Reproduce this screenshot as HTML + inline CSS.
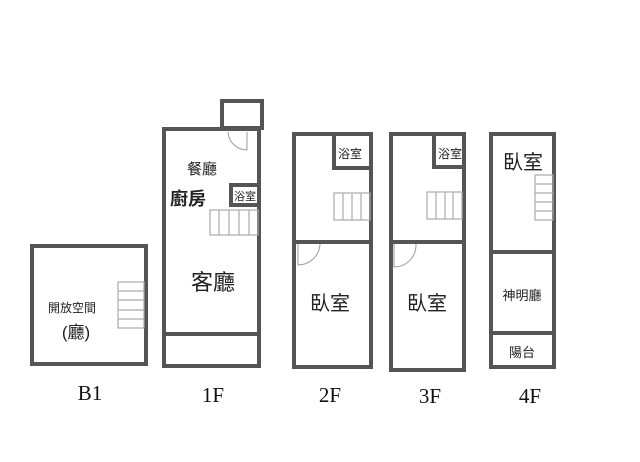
<!DOCTYPE html>
<html><head><meta charset="utf-8"><style>
html,body{margin:0;padding:0;background:#fff;}
svg{display:block;}
.w{fill:none;stroke:#555;stroke-width:4;}
.t{stroke:#aaa;stroke-width:1.2;fill:none;}
.d{stroke:#999;stroke-width:1;fill:none;}
text{font-family:"Liberation Sans","Noto Sans CJK TC",sans-serif;fill:#222;}
.s{font-family:"Liberation Serif","Noto Serif CJK SC",serif;font-size:21px;fill:#111;}
</style></head><body>
<svg width="640" height="462" viewBox="0 0 640 462">
<!-- B1 -->
<rect class="w" x="32" y="246" width="114" height="118"/>
<rect class="t" x="118" y="282" width="26" height="46"/>
<line class="t" x1="118" y1="291" x2="144" y2="291"/><line class="t" x1="118" y1="300" x2="144" y2="300"/><line class="t" x1="118" y1="310" x2="144" y2="310"/><line class="t" x1="118" y1="319" x2="144" y2="319"/>
<text x="72" y="312" font-size="12" text-anchor="middle">開放空間</text>
<text x="76" y="338" font-size="17" text-anchor="middle">(廳)</text>
<text class="s" x="90" y="400" text-anchor="middle">B1</text>
<!-- 1F -->
<rect class="w" x="164" y="129" width="95" height="237"/>
<rect class="w" x="222" y="101" width="40" height="27"/>
<line class="w" x1="164" y1="334" x2="259" y2="334"/>
<rect class="w" x="231" y="185" width="28" height="20"/>
<rect class="t" x="210" y="210" width="48" height="25"/>
<line class="t" x1="219" y1="210" x2="219" y2="235"/><line class="t" x1="229" y1="210" x2="229" y2="235"/><line class="t" x1="239" y1="210" x2="239" y2="235"/><line class="t" x1="249" y1="210" x2="249" y2="235"/>
<path class="d" d="M247 132 L247 150 M228 132 A19 19 0 0 0 247 150"/>
<text x="202" y="174" font-size="15" text-anchor="middle">餐廳</text>
<text x="188" y="205" font-size="18" font-weight="bold" text-anchor="middle">廚房</text>
<text x="245" y="200" font-size="11" text-anchor="middle">浴室</text>
<text x="213" y="290" font-size="22" text-anchor="middle">客廳</text>
<text class="s" x="213" y="402" text-anchor="middle">1F</text>
<!-- 2F -->
<rect class="w" x="294" y="134" width="77" height="233"/>
<polyline class="w" points="334,134 334,168 371,168"/>
<line class="w" x1="294" y1="242" x2="371" y2="242"/>
<rect class="t" x="334" y="193" width="36" height="27"/>
<line class="t" x1="343" y1="193" x2="343" y2="220"/><line class="t" x1="352" y1="193" x2="352" y2="220"/><line class="t" x1="361" y1="193" x2="361" y2="220"/>
<path class="d" d="M298 244 L298 265 M298 265 A22 22 0 0 0 320 244"/>
<text x="350" y="158" font-size="12" text-anchor="middle">浴室</text>
<text x="330" y="310" font-size="20" text-anchor="middle">臥室</text>
<text class="s" x="330" y="402" text-anchor="middle">2F</text>
<!-- 3F -->
<rect class="w" x="391" y="134" width="73" height="236"/>
<polyline class="w" points="434,136 434,167 464,167"/>
<line class="w" x1="391" y1="242" x2="464" y2="242"/>
<rect class="t" x="427" y="192" width="35" height="27"/>
<line class="t" x1="436" y1="192" x2="436" y2="219"/><line class="t" x1="445" y1="192" x2="445" y2="219"/><line class="t" x1="453" y1="192" x2="453" y2="219"/>
<path class="d" d="M394 244 L394 267 M394 267 A22 22 0 0 0 416 244"/>
<text x="450" y="158" font-size="12" text-anchor="middle">浴室</text>
<text x="427" y="310" font-size="20" text-anchor="middle">臥室</text>
<text class="s" x="430" y="403" text-anchor="middle">3F</text>
<!-- 4F -->
<rect class="w" x="491" y="134" width="63" height="233"/>
<line class="w" x1="491" y1="252" x2="554" y2="252"/>
<line class="w" x1="491" y1="333" x2="554" y2="333"/>
<rect class="t" x="535" y="175" width="18" height="45"/>
<line class="t" x1="535" y1="184" x2="553" y2="184"/><line class="t" x1="535" y1="193" x2="553" y2="193"/><line class="t" x1="535" y1="202" x2="553" y2="202"/><line class="t" x1="535" y1="211" x2="553" y2="211"/>
<text x="523" y="169" font-size="20" text-anchor="middle">臥室</text>
<text x="522" y="300" font-size="13" text-anchor="middle">神明廳</text>
<text x="522" y="357" font-size="13" text-anchor="middle">陽台</text>
<text class="s" x="530" y="403" text-anchor="middle">4F</text>
</svg>
</body></html>
